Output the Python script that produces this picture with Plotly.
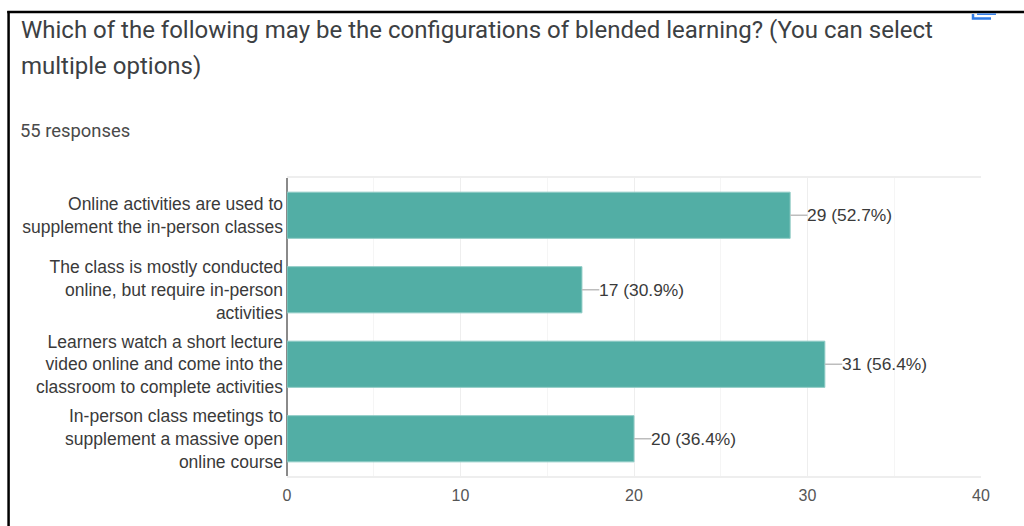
import plotly.graph_objects as go

categories = [
    "Online activities are used to<br>supplement the in-person classes",
    "The class is mostly conducted<br>online, but require in-person<br>activities",
    "Learners watch a short lecture<br>video online and come into the<br>classroom to complete activities",
    "In-person class meetings to<br>supplement a massive open<br>online course",
]
counts = [29, 17, 31, 20]
percents = ["52.7%", "30.9%", "56.4%", "36.4%"]
title_lines = [
    "Which of the following may be the configurations of blended learning? (You can select",
    "multiple options)",
]
subtitle = "55 responses"
x_ticks = [0, 10, 20, 30, 40]

W, H = 1024, 526
L, R, T, B = 286.8, 981.0, 178, 476

def px(x):
    return (x - L) / (R - L)

def py(y):
    return (B - y) / (B - T)

fig = go.Figure(go.Bar(
    y=categories, x=counts, orientation="h", width=0.62,
    marker=dict(color="#52aea5", line=dict(color="#8fcbc5", width=1)),
    error_x=dict(type="data", symmetric=False, array=[1] * len(counts),
                 arrayminus=[0] * len(counts), color="#bdbdbd", thickness=1.5, width=0),
    hoverinfo="skip",
))

annotations = []
for c, n, p in zip(categories, counts, percents):
    annotations.append(dict(x=n, y=c, xref="x", yref="y", text=f"{n} ({p})", showarrow=False,
                            xanchor="left", xshift=15, yanchor="middle",
                            font=dict(family="Liberation Sans", size=17.4, color="#3a3a3a")))
for i, t in enumerate(title_lines):
    annotations.append(dict(x=px(18.5), y=py(29.5 + 36 * i), xref="paper", yref="paper", text=t,
                            showarrow=False, xanchor="left", yanchor="middle",
                            font=dict(family="Roboto", size=24, color="#3c4043")))
annotations.append(dict(x=px(17.5), y=py(130.5), xref="paper", yref="paper", text=subtitle,
                        showarrow=False, xanchor="left", yanchor="middle",
                        font=dict(family="Roboto", size=18.4, color="#4a4a4a")))

shapes = [
    dict(type="line", xref="paper", yref="paper", x0=px(7), x1=px(1024), y0=py(12), y1=py(12),
         line=dict(color="#000000", width=2.5)),
    dict(type="line", xref="paper", yref="paper", x0=px(8.3), x1=px(8.3), y0=py(11), y1=py(526),
         line=dict(color="#000000", width=2.5)),
    dict(type="path", xref="paper", yref="paper",
         path=f"M {px(973)} {py(14)} L {px(973)} {py(18.5)} L {px(991)} {py(18.5)}",
         line=dict(color="#2f7be6", width=2.5)),
    dict(type="line", xref="paper", yref="paper", x0=px(977), x1=px(996), y0=py(14.2), y1=py(14.2),
         line=dict(color="#2f7be6", width=1.5)),
]

fig.update_layout(
    width=W, height=H,
    margin=dict(l=L, r=W - R, t=T, b=H - B, pad=0),
    paper_bgcolor="white", plot_bgcolor="white",
    showlegend=False, bargap=0.38,
    annotations=annotations, shapes=shapes,
    xaxis=dict(range=[0, 40], tickvals=x_ticks, ticks="", showgrid=True, gridcolor="#eeeeee",
               gridwidth=1, zeroline=True, zerolinecolor="#8a8a8a", zerolinewidth=2,
               showline=True, mirror=True, linecolor="#eeeeee", linewidth=2,
               ticklabelstandoff=4,
               minor=dict(dtick=5, showgrid=True, gridcolor="#f5f5f5", gridwidth=1, ticks=""),
               tickfont=dict(family="Liberation Sans", size=16, color="#555555")),
    yaxis=dict(autorange="reversed", type="category", categoryorder="array", categoryarray=categories,
               ticks="", ticklabelstandoff=3, showgrid=False, showline=False, zeroline=False,
               tickfont=dict(family="Liberation Sans", size=17.5, color="#3a3a3a"), automargin=False),
)

fig.write_html("out.html", config=dict(displayModeBar=False),
               post_script="document.body.style.margin='0';document.body.style.overflow='hidden';")
